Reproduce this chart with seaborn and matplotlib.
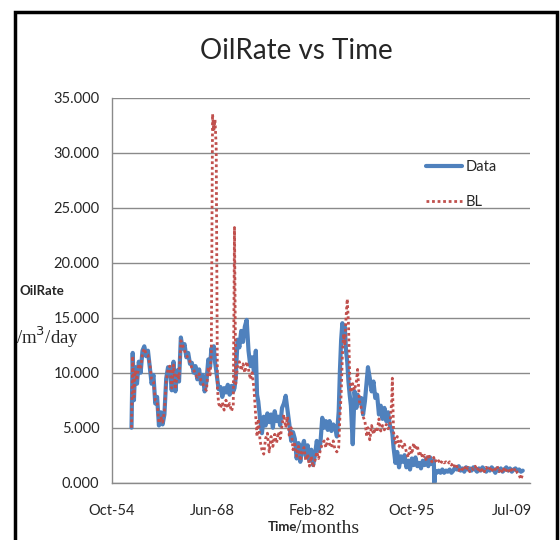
import numpy as np
import pandas as pd
import matplotlib
matplotlib.use("Agg")
import matplotlib.pyplot as plt
import seaborn as sns
from matplotlib.patches import Rectangle

# months since Oct-1954
months = [32, 34, 36, 38, 41, 44, 47, 50, 53, 56, 59, 62, 65, 68, 71, 74, 77, 80, 83, 86, 89, 92, 95, 98,
          101, 104, 107, 110, 113, 116, 119, 122, 125, 128, 131, 134, 137, 140, 143, 146, 149, 152, 155, 158,
          161, 163, 165, 167, 169, 171, 173, 175, 178, 181, 184, 187, 190, 193, 196, 199, 201, 203, 206, 209,
          212, 215, 218, 221, 224, 227, 230, 233, 236, 238, 240, 243, 246, 249, 252, 255, 258, 261, 264, 267,
          270, 273, 276, 279, 282, 285, 288, 291, 294, 297, 300, 303, 306, 309, 312, 315, 318, 321, 324, 327,
          330, 333, 336, 339, 342, 345, 348, 351, 354, 357, 360, 363, 366, 369, 372, 374, 376, 378, 380, 382,
          384, 386, 388, 390, 392, 395, 398, 401, 403, 406, 409, 412, 415, 418, 420, 423, 426, 429, 432, 435,
          438, 441, 444, 447, 450, 453, 456, 459, 460, 462, 465, 468, 471, 474, 477, 480, 483, 486, 489, 492,
          495, 498, 501, 504, 507, 510, 513, 516, 519, 522, 525, 528, 529, 530, 533, 536, 539, 542, 545, 548,
          551, 554, 557, 560, 563, 566, 569, 572, 575, 578, 581, 584, 587, 590, 593, 596, 599, 602, 605, 608,
          611, 614, 617, 620, 623, 626, 629, 632, 635, 638, 641, 644, 647, 650, 653, 656, 659, 662, 665, 668,
          671, 674]

data = [5.0, 11.8, 7.5, 10.5, 9.0, 11.0, 10.0, 12.0, 12.4, 11.5, 12.0, 10.5, 9.0, 9.8, 7.2, 7.8, 5.2, 6.4, 5.3, 6.2,
        9.5, 10.5, 10.3, 8.4, 11.0, 8.3, 10.2, 9.2, 13.2, 12.2, 12.6, 11.4, 11.8, 10.8, 10.9, 10.0, 10.6, 9.4, 10.3, 9.0,
        9.8, 8.3, 9.2, 11.2, 10.5, 12.2, 11.6, 12.4, 11.0, 10.2, 9.3, 8.5, 8.7, 7.8, 8.6, 8.2, 8.9, 8.0, 8.8, 8.3,
        8.6, 9.5, 13.0, 12.3, 13.8, 12.8, 14.2, 14.8, 12.0, 10.6, 11.4, 10.0, 12.0, 8.0, 7.4, 5.8, 4.5, 6.0, 5.2, 6.3,
        5.5, 6.2, 5.0, 6.5, 5.6, 6.0, 5.2, 6.8, 7.2, 7.9, 6.6, 5.3, 3.8, 4.6, 4.0, 2.2, 3.6, 1.9, 3.2, 3.8,
        2.4, 3.4, 2.0, 3.0, 1.6, 2.5, 3.8, 2.9, 3.6, 5.9, 5.0, 5.6, 4.8, 5.6, 4.7, 5.3, 5.0, 4.2, 6.5, 10.2,
        13.0, 14.5, 13.8, 14.2, 12.0, 11.0, 9.2, 8.0, 7.0, 3.5, 8.3, 6.8, 8.0, 7.2, 7.7, 6.2, 7.4, 9.2, 10.5, 9.5,
        8.3, 9.2, 7.7, 8.0, 6.2, 7.0, 5.8, 6.8, 5.6, 6.4, 5.2, 4.8, 4.5, 3.2, 1.8, 2.8, 1.4, 2.4, 1.9, 2.5,
        1.4, 2.0, 1.2, 2.2, 1.6, 2.3, 1.5, 1.8, 1.3, 2.0, 1.6, 2.2, 1.5, 2.3, 1.7, 2.0, 0.0, 1.1, 0.9, 1.1,
        0.9, 1.2, 0.9, 1.1, 1.0, 1.2, 0.9, 1.1, 1.4, 1.2, 1.5, 1.1, 1.3, 1.0, 1.4, 1.2, 1.3, 1.1, 1.4, 1.2,
        1.0, 1.3, 1.1, 1.4, 1.2, 1.0, 1.3, 1.1, 1.4, 1.2, 0.9, 1.3, 1.1, 1.3, 1.0, 1.2, 1.4, 1.1, 1.3, 1.0,
        1.2, 1.3, 1.1, 1.2, 1.0, 1.1]

bl = [5.0, 11.5, 7.8, 10.2, 9.3, 10.8, 10.3, 11.8, 12.2, 11.7, 11.6, 10.8, 9.4, 9.2, 7.5, 7.4, 5.4, 6.0, 5.5, 6.5,
      9.2, 10.4, 10.6, 8.6, 10.7, 8.5, 9.9, 9.5, 12.9, 12.5, 12.0, 11.6, 11.3, 11.0, 10.4, 10.3, 9.8, 9.6, 9.9, 9.3,
      9.0, 8.6, 8.4, 10.5, 9.8, 12.0, 33.5, 32.0, 33.0, 30.5, 8.5, 7.2, 6.8, 7.3, 6.6, 7.5, 6.8, 7.2, 6.5, 7.0,
      23.2, 9.0, 10.6, 11.0, 10.2, 10.8, 10.0, 11.0, 10.3, 9.4, 10.0, 8.5, 6.0, 4.2, 5.8, 3.8, 3.0, 2.6, 4.0, 4.5,
      2.8, 4.2, 3.3, 4.4, 3.6, 4.6, 4.0, 5.2, 6.2, 5.0, 6.0, 4.2, 5.0, 3.0, 3.5, 2.4, 3.3, 2.0, 2.8, 3.2,
      2.0, 2.6, 1.5, 2.4, 1.4, 2.0, 2.8, 2.2, 3.0, 3.5, 3.8, 3.2, 4.0, 3.5, 3.2, 3.8, 3.0, 2.8, 3.2, 6.0,
      8.0, 11.5, 13.5, 12.5, 15.0, 16.7, 14.5, 9.8, 8.2, 9.0, 8.4, 9.2, 10.3, 7.4, 6.8, 6.0, 5.6, 4.2, 5.0, 3.9,
      5.2, 4.4, 5.0, 4.6, 5.8, 4.7, 5.2, 4.8, 5.3, 4.9, 5.1, 7.5, 9.5, 4.6, 3.6, 4.2, 3.3, 3.8, 3.2, 3.5,
      2.8, 2.3, 3.2, 2.6, 3.6, 3.0, 3.4, 2.4, 2.8, 2.2, 2.5, 2.0, 2.6, 2.2, 1.9, 2.3, 2.0, 2.1, 1.8, 2.0,
      1.7, 2.0, 1.8, 1.9, 1.7, 1.9, 1.6, 1.8, 1.3, 1.5, 1.1, 1.4, 1.2, 1.5, 1.1, 1.4, 1.0, 1.3, 1.2, 1.5,
      1.1, 1.4, 0.9, 1.3, 1.0, 1.4, 1.1, 1.3, 1.0, 1.4, 1.2, 1.5, 1.0, 1.3, 0.9, 1.4, 1.1, 1.3, 0.9, 1.2,
      1.0, 1.3, 0.9, 0.7, 0.3, 0.8]

tick_months = [0, 164, 328, 492, 656]
tick_labels = ["Oct-54", "Jun-68", "Feb-82", "Oct-95", "Jul-09"]
y_ticks = [0, 5, 10, 15, 20, 25, 30, 35]

sns.set_theme(style="white")
plt.rcParams['font.family'] = ['Lato', 'DejaVu Sans']

fig = plt.figure(figsize=(5.6, 5.4), dpi=100)
ax = fig.add_axes([0.2, 0.1061, 0.746, 0.713])

df = pd.DataFrame({"month": months, "Data": data, "BL": bl})

sns.lineplot(data=df, x="month", y="Data", ax=ax, color="#4F81BD", lw=3.0,
             label="Data", sort=False, estimator=None)
sns.lineplot(data=df, x="month", y="BL", ax=ax, color="#C0504D", lw=2.0,
             linestyle=(0, (1, 1)), label="BL", sort=False, estimator=None)

ax.set_xlim(0, 685.5)
ax.set_ylim(0, 35)
ax.set_yticks(y_ticks)
ax.set_yticklabels([f"{v:.3f}" for v in y_ticks], fontsize=10.5)
ax.set_xticks(tick_months)
ax.set_xticklabels(tick_labels, fontsize=10.5)
ax.grid(axis="y", color="#8a8a8a", lw=1.0)
ax.grid(axis="x", visible=False)
for s in ["top", "right"]:
    ax.spines[s].set_visible(False)
for s in ["left", "bottom"]:
    ax.spines[s].set_color("#8a8a8a")
    ax.spines[s].set_linewidth(1.0)
ax.tick_params(axis="both", direction="out", length=5, width=1, color="#8a8a8a", pad=4)
ax.tick_params(axis="x", pad=10)
ax.set_xlabel("")
ax.set_ylabel("")

leg = ax.legend(loc="upper left", bbox_to_anchor=(0.72, 0.872), frameon=False,
                fontsize=10.5, handlelength=2.5, labelspacing=1.45, handletextpad=0.2)

fig.text(0.53, 0.905, "OilRate vs Time", ha="center", va="center", fontsize=20)
fig.text(0.035, 0.462, "OilRate", ha="left", va="center", fontsize=9.5, fontweight="bold")
fig.text(0.028, 0.376, "/m$^3$/day", ha="left", va="center", fontsize=13.5,
         family=["Liberation Serif", "DejaVu Serif"])
fig.text(0.478, 0.024, "Time", ha="left", va="center", fontsize=9.5, fontweight="bold")
fig.text(0.528, 0.022, "/months", ha="left", va="center", fontsize=14,
         family=["Liberation Serif", "DejaVu Serif"])

fig.patches.append(Rectangle((0.026, -0.05), 0.968, 1.028, transform=fig.transFigure,
                             fill=False, edgecolor="black", lw=2.5))

fig.savefig("out.png", dpi=100)
